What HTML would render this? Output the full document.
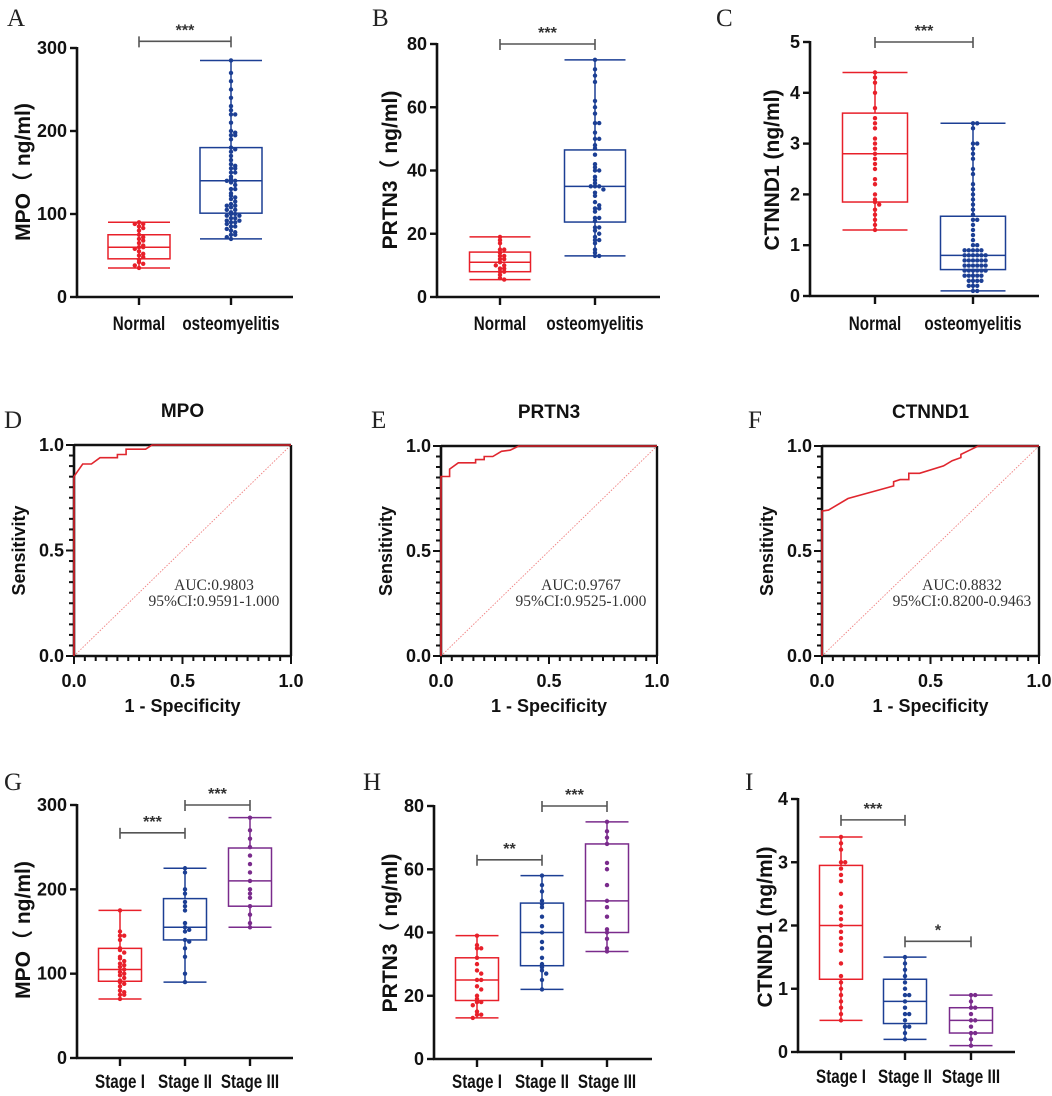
<!DOCTYPE html>
<html><head><meta charset="utf-8"><style>
body{margin:0;background:#fff}
svg{display:block}
text{font-family:"Liberation Sans","Noto Sans CJK SC",sans-serif}
.t{font-weight:bold;font-size:18px;fill:#111}
.ct{font-weight:bold;font-size:19px;fill:#111}
.yt{font-weight:bold;font-size:21px;fill:#111}
.lt{font-family:"Liberation Serif",serif;font-size:25px;fill:#222}
.auc{font-family:"Liberation Serif",serif;font-size:15.5px;fill:#333}
</style></head><body>
<svg id="fig" width="1052" height="1096" viewBox="0 0 1052 1096" xmlns="http://www.w3.org/2000/svg"></svg>
<script>
// ---- Data ----
const catsAB = ["Normal","osteomyelitis"];
const catsStage = ["Stage I","Stage II","Stage III"];
const aNormalPts=[90,88,88,85,83,80,75,72,70,68,65,62,60,60,58,55,52,50,48,45,42,40,38,35];
const aOsteoPts=[285,270,260,250,240,230,225,220,220,210,200,198,195,195,190,180,178,175,170,165,160,158,155,155,150,150,145,142,140,140,138,135,130,130,125,122,120,118,115,112,110,110,108,105,105,102,100,100,98,98,95,95,92,92,90,90,88,85,85,82,80,78,75,75,72,70];
const aBoxes=[[35,46,60,75,90],[70,101,140,180,285]];
const bNormalPts=[19,18,17,15,15,14,13,13,12,12,11,10,10,9,9,8,8,7,6,5.5];
const bOsteoPts=[75,72,70,68,62,60,58,55,55,52,50,50,48,47,45,42,41,40,40,38,37,36,35,35,35,34,33,32,30,29,28,28,27,25,25,24,22,22,21,20,19,18,18,17,15,14,13,13];
const bBoxes=[[5.5,8,11,14.2,19],[13,23.7,35,46.5,75]];
const cNormalPts=[4.4,4.3,4.2,4.0,3.7,3.5,3.4,3.3,3.1,3.0,2.9,2.8,2.7,2.6,2.5,2.3,2.2,2.0,1.9,1.85,1.8,1.7,1.6,1.5,1.4,1.3];
const cOsteoPts=[3.4,3.4,3.3,3.0,3.0,2.9,2.8,2.7,2.5,2.4,2.2,2.1,2.0,1.9,1.8,1.7,1.6,1.5,1.5,1.4,1.3,1.2,1.1,1.0,1.0,0.9,0.9,0.9,0.9,0.9,0.8,0.8,0.8,0.8,0.8,0.8,0.7,0.7,0.7,0.7,0.7,0.7,0.6,0.6,0.6,0.6,0.6,0.6,0.5,0.5,0.5,0.5,0.5,0.5,0.4,0.4,0.4,0.4,0.4,0.3,0.3,0.3,0.3,0.2,0.2,0.2,0.1,0.1];
const cBoxes=[[1.3,1.85,2.8,3.6,4.4],[0.1,0.52,0.8,1.57,3.4]];
const gPts=[[175,150,145,145,140,130,128,125,120,118,115,112,110,108,105,102,100,98,95,92,90,88,85,80,78,75,75,70],
 [225,220,200,195,185,180,175,160,155,152,150,140,138,130,120,100,90],
 [285,270,260,250,240,230,220,210,200,195,190,180,170,160,155]];
const gBoxes=[[70,91,105,130,175],[90,140,155,189,225],[155,180,210,249,285]];
const hPts=[[39,36,35,35,32,30,28,27,25,25,23,22,20,19,18,18,17,15,14,14,13],
 [58,55,53,50,49,48,45,42,40,37,35,32,30,29,28,27,25,22],
 [75,72,70,68,62,60,55,50,48,45,41,40,38,35,34]];
const hBoxes=[[13,18.5,25,32,39],[22,29.5,40,49.3,58],[34,40,50,68,75]];
const iPts=[[3.4,3.3,3.2,3.0,3.0,2.9,2.8,2.7,2.5,2.3,2.2,2.1,2.0,1.9,1.8,1.7,1.6,1.4,1.2,1.1,1.0,0.9,0.8,0.7,0.6,0.5],
 [1.5,1.4,1.3,1.2,1.1,1.0,0.9,0.9,0.8,0.7,0.6,0.6,0.5,0.4,0.4,0.3,0.2],
 [0.9,0.9,0.8,0.7,0.7,0.6,0.5,0.5,0.4,0.3,0.3,0.2,0.1]];
const iBoxes=[[0.5,1.15,2.0,2.95,3.4],[0.2,0.45,0.8,1.15,1.5],[0.1,0.3,0.5,0.7,0.9]];
const ticksA=[0,100,200,300], ticksB=[0,20,40,60,80], ticksC=[0,1,2,3,4,5], ticksI=[0,1,2,3,4];
const rocMpoFpr=[0,0,0.02,0.04,0.08,0.12,0.2,0.2,0.24,0.24,0.33,0.36,1];
const rocMpoTpr=[0,0.85,0.88,0.91,0.91,0.94,0.94,0.955,0.955,0.98,0.98,1,1];
const rocPrFpr=[0,0,0.04,0.04,0.08,0.16,0.16,0.2,0.2,0.24,0.28,0.32,0.36,1];
const rocPrTpr=[0,0.855,0.855,0.89,0.92,0.92,0.935,0.935,0.95,0.95,0.975,0.98,1,1];
const rocCtFpr=[0,0,0.03,0.12,0.33,0.33,0.36,0.4,0.4,0.45,0.56,0.6,0.64,0.64,0.68,0.72,1];
const rocCtTpr=[0,0.69,0.695,0.75,0.81,0.83,0.84,0.84,0.87,0.87,0.905,0.93,0.945,0.96,0.98,1,1];
const rocTicks=[0,0.5,1.0], rocTickLabels=["0.0","0.5","1.0"];

const svg=document.getElementById('fig');
const NS='http://www.w3.org/2000/svg';
function mk(tag,attrs,parent){const e=document.createElementNS(NS,tag);for(const k in attrs)e.setAttribute(k,attrs[k]);(parent||svg).appendChild(e);return e;}
function condense(el,f){try{const w=el.getComputedTextLength();if(w>0){el.setAttribute('textLength',(w*f).toFixed(1));el.setAttribute('lengthAdjust','spacingAndGlyphs');}}catch(e){}}
const RED='#e8202a',BLUE='#1c3f94',PUR='#7a2b8c',GR='#555';

function letter(t,x,y){const e=mk('text',{x:x,y:y,class:'lt'});e.textContent=t;

}

function boxPanel(cfg){
 const g=mk('g',{});
 
 
 const ys=v=>cfg.y0-(v/cfg.max)*(cfg.y0-cfg.y1);
 const ya=mk('line',{x1:cfg.x0,y1:cfg.y0+1,x2:cfg.x0,y2:ys(cfg.ticks[cfg.ticks.length-1])-1,stroke:'#111','stroke-width':2.6},g);
 
 const xa=mk('line',{x1:cfg.x0-1,y1:cfg.y0,x2:cfg.xEnd,y2:cfg.y0,stroke:'#111','stroke-width':2.6},g);
 
 cfg.ticks.forEach(t=>{const y=ys(t);
  mk('line',{x1:cfg.x0-7,y1:y,x2:cfg.x0,y2:y,stroke:'#111','stroke-width':2.4},g);
  const tx=mk('text',{x:cfg.x0-10,y:y+6,'text-anchor':'end',class:'t'},g);tx.textContent=t;
  });
 const yt=mk('text',{x:0,y:0,class:'yt','text-anchor':'middle',transform:`translate(${cfg.tx},${cfg.ty}) rotate(-90)`},g);
 yt.textContent=cfg.title;
 cfg.cats.forEach((c,i)=>{const cx=cfg.cx[i];
  mk('line',{x1:cx,y1:cfg.y0,x2:cx,y2:cfg.y0+8,stroke:'#111','stroke-width':2.4},g);
  const lt=mk('text',{x:cx,y:cfg.ly,'text-anchor':'middle',class:'ct'},g);lt.textContent=c;
  
  condense(lt,0.8);
  const col=cfg.colors[i],b=cfg.boxes[i],w=cfg.bw,L=cx-w/2;
  const bg=mk('g',{stroke:col,'stroke-width':1.5,fill:'none'},g);
  
  
  mk('rect',{x:L,y:ys(b[3]),width:w,height:ys(b[1])-ys(b[3])},bg);
  mk('line',{x1:L,x2:L+w,y1:ys(b[2]),y2:ys(b[2])},bg);
  mk('line',{x1:cx,x2:cx,y1:ys(b[0]),y2:ys(b[1])},bg);
  mk('line',{x1:cx,x2:cx,y1:ys(b[3]),y2:ys(b[4])},bg);
  mk('line',{x1:L,x2:L+w,y1:ys(b[0]),y2:ys(b[0])},bg);
  mk('line',{x1:L,x2:L+w,y1:ys(b[4]),y2:ys(b[4])},bg);
  const pts=cfg.pts[i],counts={};
  pts.forEach(v=>{const y=ys(v),key=Math.round(y/4);const n=counts[key]||0;counts[key]=n+1;
   const off=n===0?0:(n%2?1:-1)*Math.ceil(n/2)*4.2;
   const d=mk('circle',{cx:cx+off,cy:y,r:2.2,fill:col},g);
   });
 });
 cfg.brk.forEach(br=>{const x1=cfg.cx[br[0]],x2=cfg.cx[br[1]],y=ys(br[2]);
  const bb=mk('g',{stroke:GR,'stroke-width':1.6},g);
  
  mk('line',{x1:x1,x2:x2,y1:y,y2:y},bb);
  mk('line',{x1:x1,x2:x1,y1:y-5,y2:y+6},bb);mk('line',{x1:x2,x2:x2,y1:y-5,y2:y+6},bb);
  const st=mk('text',{x:(x1+x2)/2,y:y-6,'text-anchor':'middle','font-size':16,'font-weight':'bold',fill:'#333'},g);
  st.textContent=br[3];});
}

function rocPanel(cfg){
 const g=mk('g',{});
 
 
 const xs=v=>cfg.x0+v*(cfg.x1-cfg.x0), ys=v=>cfg.y0-v*(cfg.y0-cfg.y1);
 const diag=mk('line',{x1:xs(0),y1:ys(0),x2:xs(1),y2:ys(1),stroke:'#f08080','stroke-width':0.9,'stroke-dasharray':'1.5,1.5'},g);
 
 mk('line',{x1:cfg.x0,y1:cfg.y1,x2:cfg.x1,y2:cfg.y1,stroke:'#111','stroke-width':2.4},g);
 mk('line',{x1:cfg.x1,y1:cfg.y1,x2:cfg.x1,y2:cfg.y0,stroke:'#111','stroke-width':2.4},g);
 mk('line',{x1:cfg.x0,y1:cfg.y0+1,x2:cfg.x0,y2:cfg.y1-1,stroke:'#111','stroke-width':2.6},g);
 mk('line',{x1:cfg.x0-1,y1:cfg.y0,x2:cfg.x1+1,y2:cfg.y0,stroke:'#111','stroke-width':2.6},g);
 for(let k=0;k<=20;k++){const v=k/20,maj=k%10===0;
  mk('line',{x1:cfg.x0-(maj?8:5),x2:cfg.x0,y1:ys(v),y2:ys(v),stroke:'#111','stroke-width':2},g);
  mk('line',{y1:cfg.y0,y2:cfg.y0+(maj?8:5),x1:xs(v),x2:xs(v),stroke:'#111','stroke-width':2},g);}
 rocTicks.forEach((t,i)=>{
  const a=mk('text',{x:cfg.x0-10,y:ys(t)+6,'text-anchor':'end',class:'t'},g);a.textContent=rocTickLabels[i];
  
  const b=mk('text',{x:xs(t),y:cfg.y0+31,'text-anchor':'middle',class:'t'},g);b.textContent=rocTickLabels[i];
  });
 const d=cfg.fpr.map((f,i)=>(i?'L':'M')+xs(f).toFixed(1)+','+ys(cfg.tpr[i]).toFixed(1)).join('');
 const p=mk('path',{d:d,fill:'none',stroke:'#e0262e','stroke-width':1.6},g);
 
 const tt=mk('text',{x:(cfg.x0+cfg.x1)/2,y:cfg.y1-28,'text-anchor':'middle','font-size':19,'font-weight':'bold',fill:'#111'},g);
 tt.textContent=cfg.title;
 const yt=mk('text',{x:0,y:0,class:'t','text-anchor':'middle',transform:`translate(${cfg.x0-49},${(cfg.y0+cfg.y1)/2}) rotate(-90)`},g);
 yt.textContent='Sensitivity';
 const xt=mk('text',{x:(cfg.x0+cfg.x1)/2,y:cfg.y0+56,'text-anchor':'middle',class:'t'},g);
 xt.textContent='1 - Specificity';
 const a1=mk('text',{x:cfg.x0+140,y:cfg.y0-66,'text-anchor':'middle',class:'auc'},g);a1.textContent=cfg.auc;
 
 const a2=mk('text',{x:cfg.x0+140,y:cfg.y0-50,'text-anchor':'middle',class:'auc'},g);a2.textContent=cfg.ci;
 
}

letter('A',7,26);letter('B',372,26);letter('C',716,26);
letter('D',4,428);letter('E',371,428);letter('F',748,428);
letter('G',4,790);letter('H',363,790);letter('I',745,790);

boxPanel({name:'panel-a-mpo-boxplot',x0:77,y0:297,y1:48,max:300,xEnd:293,cx:[139,231],bw:62,ticks:ticksA,cats:catsAB,
 colors:[RED,BLUE],boxes:aBoxes,pts:[aNormalPts,aOsteoPts],title:'MPO（ ng/ml)',tx:30,ty:172,ly:330,brk:[[0,1,308,'***']]});
boxPanel({name:'panel-b-prtn3-boxplot',x0:437,y0:297,y1:44,max:80,xEnd:660,cx:[500,595],bw:61,ticks:ticksB,cats:catsAB,
 colors:[RED,BLUE],boxes:bBoxes,pts:[bNormalPts,bOsteoPts],title:'PRTN3（ ng/ml)',tx:397,ty:170,ly:330,brk:[[0,1,80,'***']]});
boxPanel({name:'panel-c-ctnnd1-boxplot',x0:810,y0:296,y1:42,max:5,xEnd:1039,cx:[875,973],bw:65,ticks:ticksC,cats:catsAB,
 colors:[RED,BLUE],boxes:cBoxes,pts:[cNormalPts,cOsteoPts],title:'CTNND1 (ng/ml)',tx:779,ty:170,ly:330,brk:[[0,1,5,'***']]});

rocPanel({name:'panel-d-mpo-roc',x0:74,x1:291,y1:445,y0:656,fpr:rocMpoFpr,tpr:rocMpoTpr,title:'MPO',auc:'AUC:0.9803',ci:'95%CI:0.9591-1.000'});
rocPanel({name:'panel-e-prtn3-roc',x0:441,x1:657,y1:446,y0:656,fpr:rocPrFpr,tpr:rocPrTpr,title:'PRTN3',auc:'AUC:0.9767',ci:'95%CI:0.9525-1.000'});
rocPanel({name:'panel-f-ctnnd1-roc',x0:822,x1:1039,y1:446,y0:656,fpr:rocCtFpr,tpr:rocCtTpr,title:'CTNND1',auc:'AUC:0.8832',ci:'95%CI:0.8200-0.9463'});

boxPanel({name:'panel-g-mpo-stage-boxplot',x0:77,y0:1058,y1:805,max:300,xEnd:293,cx:[120,185,250],bw:43,ticks:ticksA,cats:catsStage,
 colors:[RED,BLUE,PUR],boxes:gBoxes,pts:gPts,title:'MPO（ ng/ml)',tx:30,ty:930,ly:1088,brk:[[0,1,267,'***'],[1,2,300,'***']]});
boxPanel({name:'panel-h-prtn3-stage-boxplot',x0:434,y0:1059,y1:806,max:80,xEnd:652,cx:[477,542,607],bw:43,ticks:ticksB,cats:catsStage,
 colors:[RED,BLUE,PUR],boxes:hBoxes,pts:hPts,title:'PRTN3（ ng/ml)',tx:397,ty:933,ly:1088,brk:[[0,1,63,'**'],[1,2,80,'***']]});
boxPanel({name:'panel-i-ctnnd1-stage-boxplot',x0:798,y0:1052,y1:799,max:4,xEnd:1015,cx:[841,905,971],bw:43,ticks:ticksI,cats:catsStage,
 colors:[RED,BLUE,PUR],boxes:iBoxes,pts:iPts,title:'CTNND1 (ng/ml)',tx:772,ty:927,ly:1083,brk:[[0,1,3.67,'***'],[1,2,1.75,'*']]});
</script>
</body></html>
